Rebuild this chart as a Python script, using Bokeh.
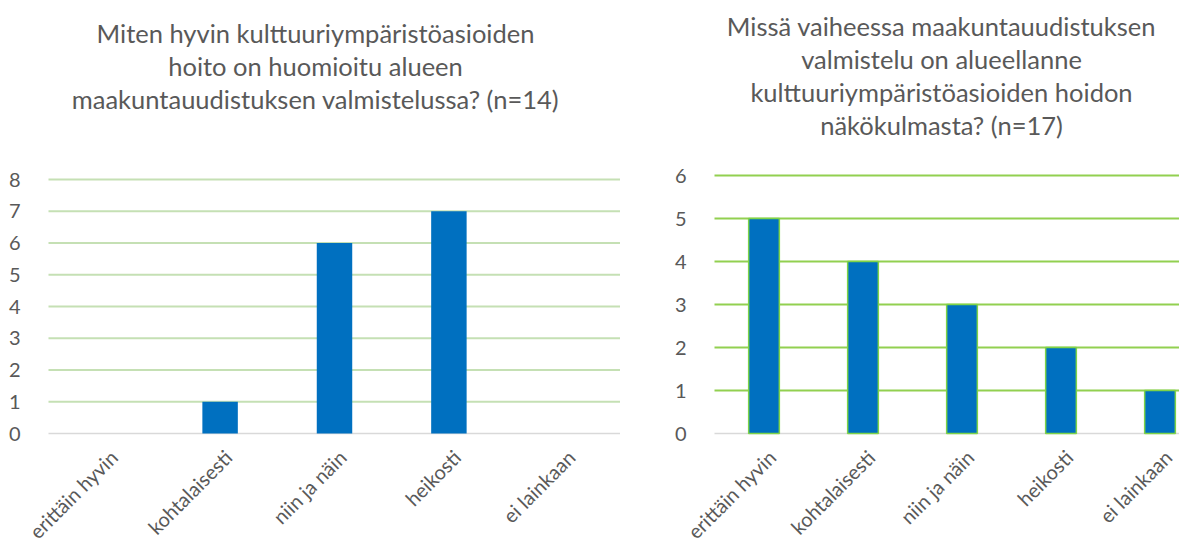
from math import pi
from bokeh.plotting import figure
from bokeh.layouts import row
from bokeh.models import Range1d, FixedTicker, Label, LabelSet, ColumnDataSource
from bokeh.core.properties import value
from bokeh.embed import file_html
from bokeh.resources import INLINE

categories = ["erittäin hyvin", "kohtalaisesti", "niin ja näin", "heikosti", "ei lainkaan"]
left_values = [0, 1, 6, 7, 0]
right_values = [5, 4, 3, 2, 1]
left_title = ["Miten hyvin kulttuuriympäristöasioiden",
              "hoito on huomioitu alueen",
              "maakuntauudistuksen valmistelussa? (n=14)"]
right_title = ["Missä vaiheessa maakuntauudistuksen",
               "valmistelu on alueellanne",
               "kulttuuriympäristöasioiden hoidon",
               "näkökulmasta? (n=17)"]
left_yticks = [0, 1, 2, 3, 4, 5, 6, 7, 8]
right_yticks = [0, 1, 2, 3, 4, 5, 6]

FONT = "Lato"
TXT = "#595959"
BAR = "#0070c0"
H = 544

xs = [i + 0.5 for i in range(len(categories))]


def make(values, title_lines, yticks, fig_x0, width, border_left, cat_px, base_px, top_tick_px,
         title_cx, title_y0, grid_color, bar_line):
    frame_w = width - border_left
    unit = (base_px - top_tick_px) / yticks[-1]          # pixels per value unit
    y0 = -(H - base_px) / unit
    y1 = base_px / unit
    xstart = -border_left / cat_px
    xend = frame_w / cat_px
    p = figure(width=width, height=H, output_backend="svg", toolbar_location=None,
               title=None, x_axis_location=None,
               x_range=Range1d(xstart, xend), y_range=Range1d(y0, y1),
               min_border_left=0, min_border_right=0,
               min_border_top=0, min_border_bottom=0)
    p.outline_line_color = None
    p.background_fill_color = "white"
    p.border_fill_color = "white"

    # title lines (each centered)
    tx = (title_cx - fig_x0 - border_left) / cat_px
    for i, line in enumerate(title_lines):
        ty = (base_px - (title_y0 + 33 * i)) / unit
        p.add_layout(Label(x=tx, y=ty, text=line, text_align="center", text_baseline="middle",
                           text_font=FONT, text_font_size="25.5px", text_color=TXT))

    # horizontal gridlines across the plot area, and the grey baseline
    p.xgrid.grid_line_color = None
    p.ygrid.grid_line_color = None
    gy = yticks[1:]
    p.segment(x0=[0] * len(gy), x1=[xend] * len(gy), y0=gy, y1=gy,
              line_color=grid_color, line_width=2)
    p.segment(x0=[0], x1=[xend], y0=[0], y1=[0], line_color="#d9d9d9", line_width=1.5)

    if bar_line:
        p.vbar(x=xs, top=values, width=0.31, fill_color=BAR, line_color=bar_line, line_width=1.5)
    else:
        p.vbar(x=xs, top=values, width=0.31, fill_color=BAR, line_color=None)

    # category labels under the baseline, rotated 45 degrees
    lab_dx = 8 / cat_px
    lab_dy = -20 / unit
    src = ColumnDataSource(dict(x=[x + lab_dx for x in xs], y=[lab_dy] * len(xs), t=categories))
    p.add_layout(LabelSet(x="x", y="y", text="t", source=src, angle=pi / 4,
                          text_align="right", text_baseline="middle",
                          text_font=value(FONT), text_font_size=value("20px"),
                          text_color=value(TXT)))

    p.yaxis.fixed_location = 0
    p.yaxis.ticker = FixedTicker(ticks=yticks)
    p.yaxis.axis_line_color = None
    p.yaxis.major_tick_line_color = None
    p.yaxis.minor_tick_line_color = None
    p.yaxis.major_label_text_font = FONT
    p.yaxis.major_label_text_font_size = "20px"
    p.yaxis.major_label_text_color = TXT
    p.yaxis.major_label_standoff = 22
    return p


left = make(left_values, left_title, left_yticks, 0, 620, 48, 114.4, 433, 179,
            315, 32, "#c5e0b4", None)
right = make(right_values, right_title, right_yticks, 620, 559, 94, 99, 433, 175,
             941, 25, "#92d050", "#7ed348")

layout = row(left, right)
open("out.html", "w").write(file_html(layout, INLINE))
